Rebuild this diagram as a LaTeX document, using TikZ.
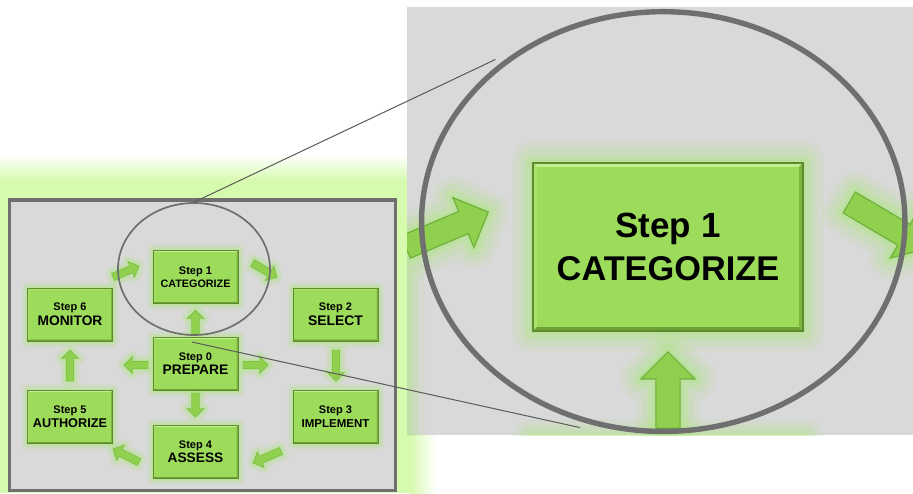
\documentclass[tikz,border=0pt]{standalone}
\usepackage{fontspec}
\setmainfont{Liberation Sans}
\usetikzlibrary{shapes.geometric}

\definecolor{panelgray}{HTML}{D9D9D9}
\definecolor{framegray}{HTML}{6F6F6F}
\definecolor{linkgray}{HTML}{5A5A5A}
\definecolor{haze}{HTML}{D6FAAE}
\definecolor{glowgreen}{HTML}{ACE87A}
\definecolor{boxfill}{HTML}{9DDB5B}
\definecolor{boxedge}{HTML}{5E8C2C}
\definecolor{bevellight}{HTML}{C3EF93}
\definecolor{bevelleft}{HTML}{ABE26F}
\definecolor{beveldark}{HTML}{6E9E36}
\definecolor{bevelright}{HTML}{7FB443}
\definecolor{arrowfill}{HTML}{8FD04F}
\definecolor{arrowedge}{HTML}{6FAE3B}

\tikzset{
  steptext/.style={font=\bfseries, text=black, align=center, inner sep=0pt, transform shape},
  lensstyle/.style={ellipse, draw=framegray, line width=\zk*1.7pt, minimum width=152, minimum height=132, inner sep=0pt, transform shape},
  linkline/.style={draw=linkgray, line width=1pt}
}

% scale factor for line widths (1 = overview, >1 = enlarged view) and name prefix
\def\zk{1}
\def\zp{}
\newif\ifglowpass
\newif\ifzoomview

% soft green halo around a path
\newcommand{\glowstroke}[1]{%
  \foreach \gw/\go in {13/0.12,9/0.18,5/0.26,2/0.32}{%
    \draw[glowgreen, line width=\zk*\gw pt, opacity=\go, line join=round] #1;
  }%
}

% two-line label: step number, then the step title (#4 = extra line gap)
\newcommand{\twoline}[4]{\fontsize{11}{13}\selectfont Step #1\\[#4]\fontsize{#3}{13}\selectfont #2}
% labels of boxes lying outside the enlarged window are left out there
\newcommand{\farlabel}[1]{\ifzoomview\else#1\fi}

% bevelled green step box: name, centre x, centre y, label
\newcommand{\stepbox}[4]{%
  \pgfmathsetmacro\bxa{#2-42.5}\pgfmathsetmacro\bxb{#2+42.5}%
  \pgfmathsetmacro\bya{#3-26.5}\pgfmathsetmacro\byb{#3+26.5}%
  \pgfmathsetmacro\bxc{\bxa+1.3}\pgfmathsetmacro\bxd{\bxb-1.3}%
  \pgfmathsetmacro\byc{\bya+1.3}\pgfmathsetmacro\byd{\byb-1.3}%
  \ifglowpass
    \glowstroke{(\bxa,\bya) rectangle (\bxb,\byb)}%
  \else
    \fill[boxfill] (\bxa,\bya) rectangle (\bxb,\byb);
    \fill[bevellight] (\bxa,\bya) -- (\bxb,\bya) -- (\bxd,\byc) -- (\bxc,\byc) -- cycle;
    \fill[bevelleft] (\bxa,\bya) -- (\bxc,\byc) -- (\bxc,\byd) -- (\bxa,\byb) -- cycle;
    \fill[beveldark] (\bxa,\byb) -- (\bxc,\byd) -- (\bxd,\byd) -- (\bxb,\byb) -- cycle;
    \fill[bevelright] (\bxb,\bya) -- (\bxd,\byc) -- (\bxd,\byd) -- (\bxb,\byb) -- cycle;
    \draw[boxedge, line width=\zk*0.6pt] (\bxa,\bya) rectangle (\bxb,\byb);
    \node[steptext] (#1) at (#2,#3) {#4};
  \fi
}

% block arrow from tail (#1,#2) to tip (#3,#4)
\def\arrowshaft{3.8}
\def\arrowwing{8.5}
\def\arrowhead{8.5}
\newcommand{\blockarrow}[4]{%
  \pgfmathsetmacro\adx{#3-(#1)}\pgfmathsetmacro\ady{#4-(#2)}%
  \pgfmathsetmacro\alen{veclen(\adx,\ady)}%
  \pgfmathsetmacro\aux{\adx/\alen}\pgfmathsetmacro\auy{\ady/\alen}%
  \pgfmathsetmacro\abx{#3-\arrowhead*\aux}\pgfmathsetmacro\aby{#4-\arrowhead*\auy}%
  \def\apath{({#1-\arrowshaft*\auy},{#2+\arrowshaft*\aux})
    -- ({\abx-\arrowshaft*\auy},{\aby+\arrowshaft*\aux})
    -- ({\abx-\arrowwing*\auy},{\aby+\arrowwing*\aux})
    -- (#3,#4)
    -- ({\abx+\arrowwing*\auy},{\aby-\arrowwing*\aux})
    -- ({\abx+\arrowshaft*\auy},{\aby-\arrowshaft*\aux})
    -- ({#1+\arrowshaft*\auy},{#2-\arrowshaft*\aux}) -- cycle}%
  \ifglowpass
    \glowstroke{\apath}%
  \else
    \filldraw[fill=arrowfill, draw=arrowedge, line width=\zk*0.35pt, line join=miter] \apath;
  \fi
}

% the seven-step cycle with its lens outline
\newcommand{\flowparts}{%
  \blockarrow{113}{277}{139}{266}
  \blockarrow{252.5}{263}{277}{277.5}
  \blockarrow{336}{350}{336}{381}
  \blockarrow{281}{451}{253}{463}
  \blockarrow{139}{462}{113}{449}
  \blockarrow{70}{381}{70}{350}
  \blockarrow{195.5}{334}{195.5}{310}
  \blockarrow{148}{365}{124}{365}
  \blockarrow{243}{365}{268}{365}
  \blockarrow{195.5}{393}{195.5}{417}
  \stepbox{\zp s1}{195.5}{277}{\twoline{1}{CATEGORIZE}{10.8}{1.5pt}}
  \stepbox{\zp s6}{70}{314.5}{\farlabel{\twoline{6}{MONITOR}{13.8}{3pt}}}
  \stepbox{\zp s2}{335.5}{314.5}{\farlabel{\twoline{2}{SELECT}{13.9}{2.7pt}}}
  \stepbox{\zp s0}{195.5}{364}{\farlabel{\twoline{0}{PREPARE}{13.8}{2.2pt}}}
  \stepbox{\zp s5}{70}{417}{\farlabel{\twoline{5}{AUTHORIZE}{12.7}{2.2pt}}}
  \stepbox{\zp s3}{335.5}{417}{\farlabel{\twoline{3}{IMPLEMENT}{11.5}{1.8pt}}}
  \stepbox{\zp s4}{195.5}{452}{\farlabel{\twoline{4}{ASSESS}{13.7}{2.2pt}}}
  \ifglowpass\else
    \node[lensstyle] (\zp lens) at (194,269) {};
  \fi
}
\newcommand{\flowchart}{\glowpasstrue\flowparts\glowpassfalse\flowparts}

\begin{document}
\begin{tikzpicture}[x=1pt, y=-1pt]
  \useasboundingbox (0,0) rectangle (913,493);
  \fill[white] (0,0) rectangle (913,493);

  % green haze behind the overview panel
  \fill[haze] (0,180) rectangle (410,493);
  \shade[top color=white, bottom color=haze] (0,155) rectangle (410,180.5);
  \shade[left color=haze, right color=white] (409.5,180) rectangle (436,493);

  % overview panel
  \filldraw[fill=panelgray, draw=framegray, line width=3.5pt] (9.5,200) rectangle (395.5,490.5);
  \flowchart

  % enlarged view of the lens
  \begin{scope}
    \clip (407,7) rectangle (913,435);
    \fill[panelgray] (407,7) rectangle (913,435);
    \begin{scope}[shift={(668,247)}, scale=3.18, shift={(-195.5,-277)}]
      \def\zk{3.18}\def\zp{z}\zoomviewtrue
      \flowchart
    \end{scope}
  \end{scope}

  % lines joining the lens to its enlargement
  \coordinate (lowtap) at (192,342);
  \draw[linkline] (lens.north) -- (zlens.136);
  \draw[linkline] (lowtap) -- (zlens.248);
\end{tikzpicture}
\end{document}
